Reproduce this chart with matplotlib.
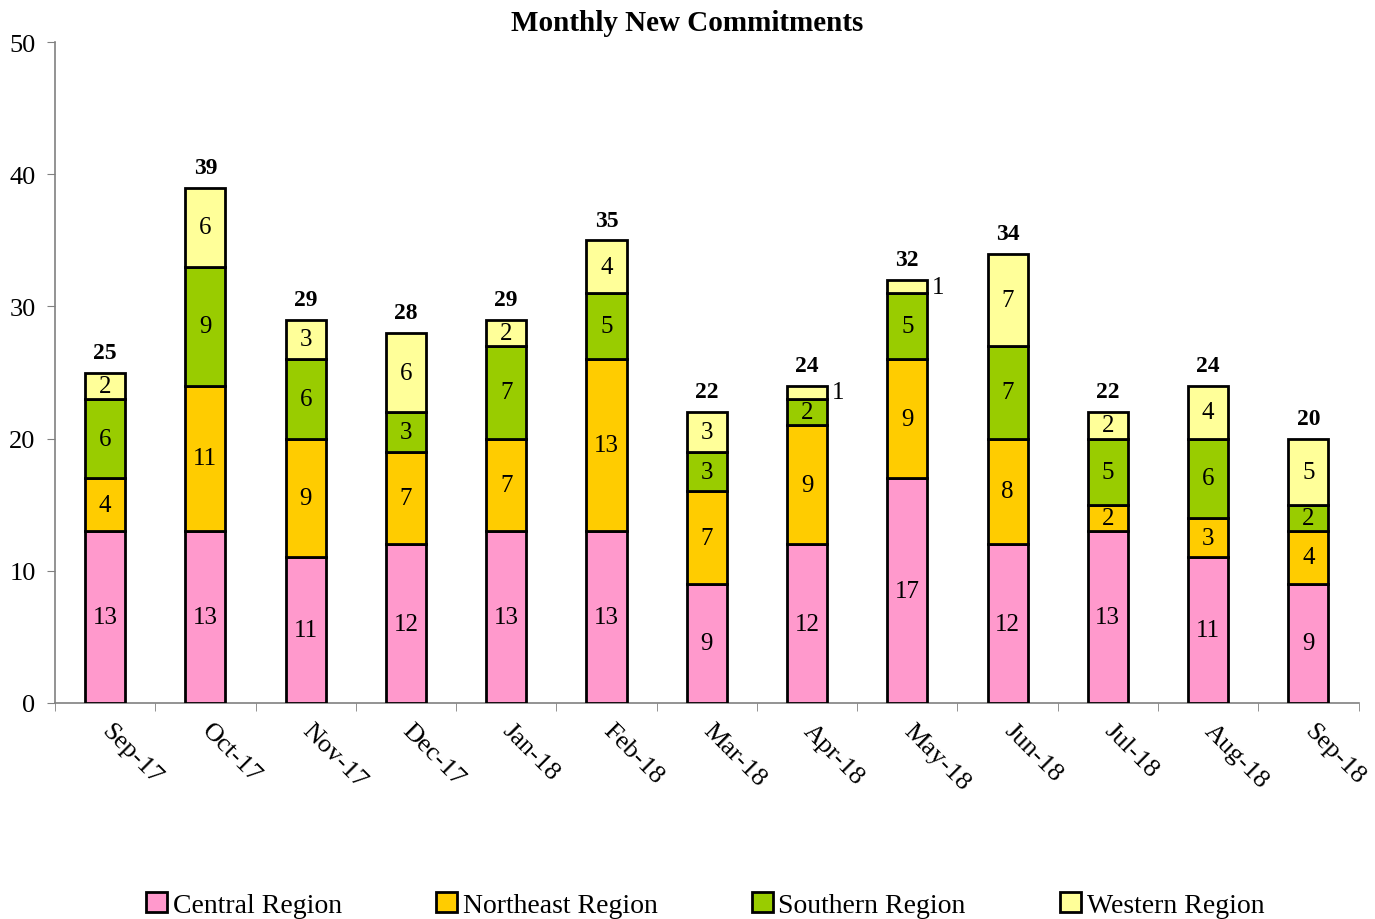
import numpy as np
import matplotlib.pyplot as plt

months = ['Sep-17', 'Oct-17', 'Nov-17', 'Dec-17', 'Jan-18', 'Feb-18', 'Mar-18',
          'Apr-18', 'May-18', 'Jun-18', 'Jul-18', 'Aug-18', 'Sep-18']
central = [13, 13, 11, 12, 13, 13, 9, 12, 17, 12, 13, 11, 9]
northeast = [4, 11, 9, 7, 7, 13, 7, 9, 9, 8, 2, 3, 4]
southern = [6, 9, 6, 3, 7, 5, 3, 2, 5, 7, 5, 6, 2]
western = [2, 6, 3, 6, 2, 4, 3, 1, 1, 7, 2, 4, 5]

series = [('Central Region', central, '#ff99cc'),
          ('Northeast Region', northeast, '#ffcc00'),
          ('Southern Region', southern, '#99cc00'),
          ('Western Region', western, '#ffff99')]

plt.rcParams['font.family'] = ['Liberation Serif', 'DejaVu Serif']

fig = plt.figure(figsize=(13.75, 9.2), dpi=100)
ax = fig.add_axes([0.04, 0.235, 0.948, 0.718])

x = np.arange(len(months))
bottom = np.zeros(len(months))
for name, vals, color in series:
    vals = np.array(vals)
    ax.bar(x, vals, 0.4, bottom=bottom, color=color, edgecolor='black',
           linewidth=2, label=name, zorder=3)
    for xi, b, v in zip(x, bottom, vals):
        if v == 1:
            ax.text(xi + 0.25, b + v / 2, str(v), ha='left', va='center', fontsize=18)
        else:
            ax.text(xi, b + v / 2, str(v), ha='center', va='center', fontsize=18)
    bottom = bottom + vals

for xi, t in zip(x, bottom):
    ax.annotate(str(int(t)), (xi, t), xytext=(0, 7), textcoords='offset points',
                ha='center', va='bottom', fontsize=17, fontweight='bold')

ax.set_xlim(-0.5, 12.5)
ax.set_ylim(0, 50)
ax.set_yticks(range(0, 51, 10))
# label anchors sit a little left of the bar centres (ticks themselves are hidden)
ax.set_xticks(x - 0.08)
ax.set_xticklabels(months, rotation=-45, ha='left', va='top', fontsize=19)
ax.set_xticks(np.arange(-0.5, 13, 1), minor=True)
ax.tick_params(axis='x', which='major', length=0, pad=12)
ax.tick_params(axis='x', which='minor', length=6, color='#808080')
ax.tick_params(axis='y', length=6, color='#808080', labelsize=19, pad=8)
for s in ['top', 'right']:
    ax.spines[s].set_visible(False)
for s in ['left', 'bottom']:
    ax.spines[s].set_color('#808080')
    ax.spines[s].set_linewidth(1.2)

ax.set_title('Monthly New Commitments', fontsize=21, fontweight='bold', pad=9,
             x=(0.5 - 0.04) / 0.948)

fig.legend(loc='lower center', bbox_to_anchor=(0.513, -0.026), ncol=4, frameon=False,
           fontsize=20, handlelength=0.75, handleheight=0.75, handletextpad=0.2,
           columnspacing=3.4)

plt.savefig('out.png')
